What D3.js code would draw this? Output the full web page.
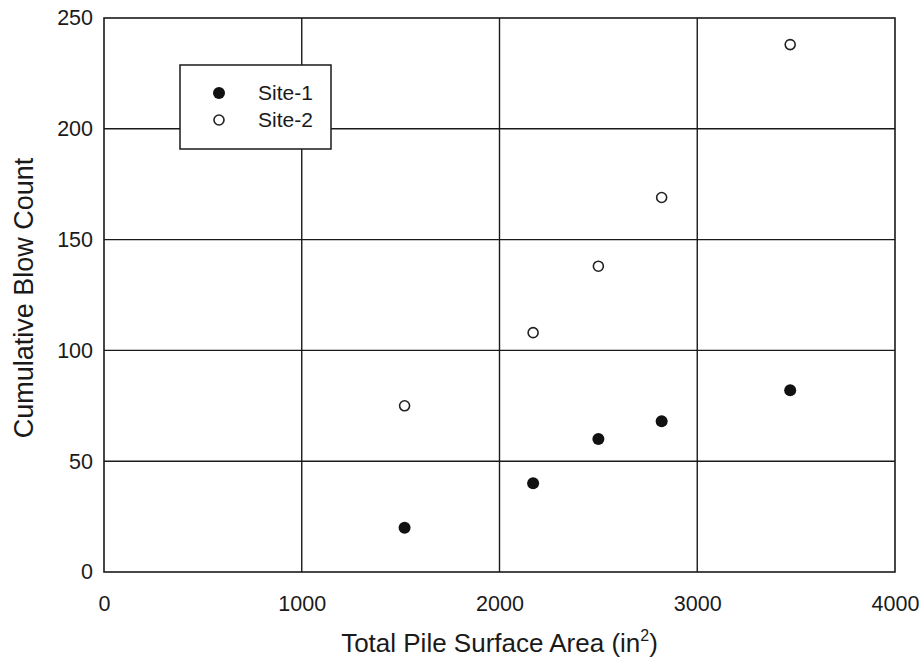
<!DOCTYPE html>
<html>
<head>
<meta charset="utf-8">
<script src="https://cdn.jsdelivr.net/npm/d3@7"></script>
<style>
  html, body { margin: 0; padding: 0; background: #fff; }
  svg { display: block; font-family: "Liberation Sans", Arial, sans-serif; }
</style>
</head>
<body>
<svg id="chart" width="924" height="667"></svg>
<script>
// Pile surface area (in^2) for each test pile
const surfaceArea = [1520, 2170, 2500, 2820, 3470];
// Cumulative blow counts per site
const site1Blows = [20, 40, 60, 68, 82];
const site2Blows = [75, 108, 138, 169, 238];
const xTicks = [0, 1000, 2000, 3000, 4000];
const yTicks = [0, 50, 100, 150, 200, 250];
const seriesNames = ["Site-1", "Site-2"];

const svg = d3.select("#chart");
const margin = { left: 104, right: 29, top: 18, bottom: 95 };
const W = 924, H = 667;

const x = d3.scaleLinear().domain([0, 4000]).range([margin.left, W - margin.right]);
const y = d3.scaleLinear().domain([0, 250]).range([H - margin.bottom, margin.top]);

const ink = "#1a1a1a";
const font = "'Liberation Sans', Arial, sans-serif";

// grid lines
const g = svg.append("g");
g.selectAll("line.vx").data(xTicks.slice(1, -1)).join("line")
  .attr("x1", d => x(d)).attr("x2", d => x(d))
  .attr("y1", y(0)).attr("y2", y(250))
  .attr("stroke", ink).attr("stroke-width", 1.4);
g.selectAll("line.hy").data(yTicks.slice(1, -1)).join("line")
  .attr("x1", x(0)).attr("x2", x(4000))
  .attr("y1", d => y(d)).attr("y2", d => y(d))
  .attr("stroke", ink).attr("stroke-width", 1.4);

// frame
svg.append("rect")
  .attr("x", x(0)).attr("y", y(250))
  .attr("width", x(4000) - x(0)).attr("height", y(0) - y(250))
  .attr("fill", "none").attr("stroke", ink).attr("stroke-width", 1.6);

// axes (labels only, no tick marks)
const xAxis = svg.append("g")
  .attr("transform", `translate(0,${y(0)})`)
  .call(d3.axisBottom(x).tickValues(xTicks).tickSize(0).tickFormat(d3.format("d")));
xAxis.select(".domain").remove();
xAxis.selectAll("text")
  .attr("y", 39).attr("dy", 0)
  .attr("font-size", 21.5).attr("fill", ink).attr("font-family", font);

const yAxis = svg.append("g")
  .attr("transform", `translate(${x(0)},0)`)
  .call(d3.axisLeft(y).tickValues(yTicks).tickSize(0).tickPadding(11).tickFormat(d3.format("d")));
yAxis.select(".domain").remove();
yAxis.selectAll("text")
  .attr("font-size", 21.5).attr("fill", ink).attr("font-family", font);

// axis titles
const xTitle = svg.append("text")
  .attr("x", (x(0) + x(4000)) / 2).attr("y", 652)
  .attr("text-anchor", "middle").attr("font-size", 26).attr("fill", ink);
xTitle.append("tspan").text("Total Pile Surface Area (in");
xTitle.append("tspan").attr("font-size", 16).attr("dy", -11).text("2");
xTitle.append("tspan").attr("dy", 11).text(")");

svg.append("text")
  .attr("transform", `translate(33,${298}) rotate(-90)`)
  .attr("text-anchor", "middle").attr("font-size", 27).attr("fill", ink)
  .text("Cumulative Blow Count");

// data points
const pts1 = surfaceArea.map((a, i) => ({ a, b: site1Blows[i] }));
const pts2 = surfaceArea.map((a, i) => ({ a, b: site2Blows[i] }));

svg.append("g").selectAll("circle").data(pts1).join("circle")
  .attr("cx", d => x(d.a)).attr("cy", d => y(d.b)).attr("r", 6)
  .attr("fill", "#111");

svg.append("g").selectAll("circle").data(pts2).join("circle")
  .attr("cx", d => x(d.a)).attr("cy", d => y(d.b)).attr("r", 5)
  .attr("fill", "#fff").attr("stroke", "#222").attr("stroke-width", 1.6);

// legend
const lg = svg.append("g").attr("transform", "translate(180,65)");
lg.append("rect").attr("width", 151).attr("height", 84)
  .attr("fill", "#fff").attr("stroke", ink).attr("stroke-width", 1.5);
lg.append("circle").attr("cx", 39).attr("cy", 28).attr("r", 6).attr("fill", "#111");
lg.append("circle").attr("cx", 39).attr("cy", 55).attr("r", 5)
  .attr("fill", "#fff").attr("stroke", "#222").attr("stroke-width", 1.6);
lg.selectAll("text.lab").data(seriesNames).join("text")
  .attr("x", 78).attr("y", (d, i) => 28 + i * 27)
  .attr("dy", "0.35em").attr("font-size", 21).attr("fill", ink)
  .text(d => d);
</script>
</body>
</html>
